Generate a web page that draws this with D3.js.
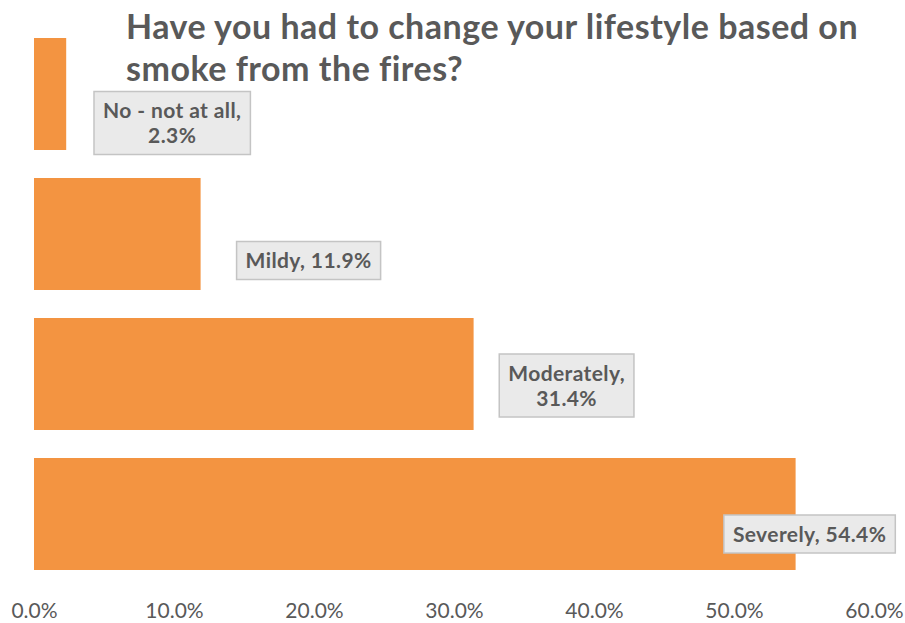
<!DOCTYPE html>
<html>
<head>
<meta charset="utf-8">
<script src="https://cdn.jsdelivr.net/npm/d3@7"></script>
<style>
  html, body { margin: 0; padding: 0; background: #ffffff; }
  svg { display: block; font-family: Lato, "Open Sans", sans-serif; }
</style>
</head>
<body>
<svg id="chart" width="905" height="623"></svg>
<script>
// Survey answers, top to bottom
const categories = ["No - not at all", "Mildy", "Moderately", "Severely"];
const shares = [0.023, 0.119, 0.314, 0.544];
const tickValues = [0, 0.1, 0.2, 0.3, 0.4, 0.5, 0.6];
const titleLines = ["Have you had to change your lifestyle based on", "smoke from the fires?"];
// Whether a data label breaks after its comma
const labelWraps = [true, false, true, false];
// Label placement relative to bar end / band centre
const labelOffsets = [
  { dx: 106, dy: 29 },
  { dx: 108, dy: 26.5 },
  { dx: 93, dy: 11.5 },
  { dx: 14, dy: 20 }
];

const TEXT = "#595959";
const BAR = "#F39441";
const pct = d3.format(".1%");

const svg = d3.select("#chart");

const x = d3.scaleLinear().domain([0, 0.6]).range([34, 874]);
const y = d3.scaleBand().domain(categories).range([24, 584]).paddingInner(0.2).paddingOuter(0.1);

// Bars
svg.append("g").selectAll("rect")
  .data(categories)
  .join("rect")
  .attr("x", x(0))
  .attr("y", d => y(d))
  .attr("width", (d, i) => x(shares[i]) - x(0))
  .attr("height", y.bandwidth())
  .attr("fill", BAR);

// Value axis (labels only)
const axis = svg.append("g")
  .attr("transform", "translate(0,618)")
  .call(d3.axisBottom(x).tickValues(tickValues).tickFormat(pct).tickSize(0).tickPadding(0));
axis.select(".domain").remove();
axis.selectAll("text")
  .attr("fill", TEXT)
  .attr("font-size", 21)
  .attr("font-family", "Lato, 'Open Sans', sans-serif")
  .attr("y", 0)
  .attr("dy", 0);

// Title
svg.append("text")
  .attr("x", 126)
  .attr("y", 39)
  .attr("fill", TEXT)
  .attr("font-size", 34)
  .attr("font-weight", 700)
  .attr("letter-spacing", 0.5)
  .selectAll("tspan")
  .data(titleLines)
  .join("tspan")
  .attr("x", 126)
  .attr("dy", (d, i) => i === 0 ? 0 : 42)
  .text(d => d);

// Data labels in grey callout boxes
const lineH = 25;
const labels = svg.append("g").selectAll("g")
  .data(categories)
  .join("g")
  .attr("transform", (d, i) =>
    `translate(${x(shares[i]) + labelOffsets[i].dx},${y(d) + y.bandwidth() / 2 + labelOffsets[i].dy})`);

labels.each(function (d, i) {
  const g = d3.select(this);
  const lines = labelWraps[i]
    ? [d + ",", pct(shares[i])]
    : [d + ", " + pct(shares[i])];
  const box = g.append("rect");
  const t = g.append("text")
    .attr("text-anchor", "middle")
    .attr("fill", TEXT)
    .attr("font-size", 21)
    .attr("font-weight", 700)
    .attr("letter-spacing", 0.4);
  t.selectAll("tspan")
    .data(lines)
    .join("tspan")
    .attr("x", 0)
    .attr("y", (l, j) => (j - (lines.length - 1) / 2) * lineH + 7.5)
    .text(l => l);
  const w = d3.max(t.selectAll("tspan").nodes(), n => n.getComputedTextLength());
  const h = lines.length * lineH + 13;
  box.attr("x", -w / 2 - 9)
    .attr("y", -h / 2)
    .attr("width", w + 18)
    .attr("height", h)
    .attr("fill", "#EAEAEA")
    .attr("stroke", "#C4C4C4")
    .attr("stroke-width", 1.5);
});
</script>
</body>
</html>
